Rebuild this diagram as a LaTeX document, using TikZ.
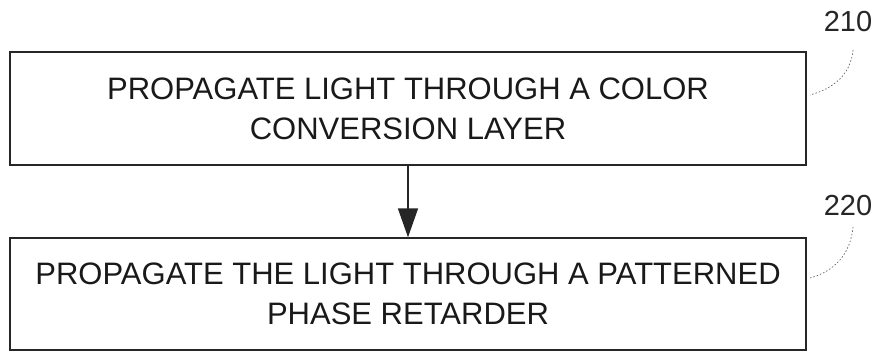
\documentclass[tikz,border=0pt]{standalone}
\usepackage{fontspec}
\setmainfont{Liberation Sans}
\usetikzlibrary{arrows.meta}
\begin{document}
\begin{tikzpicture}[x=1pt,y=1pt,
  stepbox/.style={draw=black!85, line width=1.4pt, minimum width=796pt, inner sep=0pt,
    align=center, font=\fontsize{31}{40}\selectfont, text=black!90},
  reflabel/.style={font=\fontsize{29}{32}\selectfont, text=black!85, inner sep=0pt},
  leader/.style={draw=black!60, line width=0.7pt, dash pattern=on 1.5pt off 2pt},
  flow/.style={draw=black!85, line width=1.6pt, -{Triangle[width=20pt,length=29pt]}}]
\useasboundingbox (0,0) rectangle (880,352);
\node[stepbox, minimum height=113pt] (b1) at (408,243.5)
  {PROPAGATE LIGHT THROUGH A COLOR\\CONVERSION LAYER};
\node[stepbox, minimum height=112pt] (b2) at (408,58)
  {PROPAGATE THE LIGHT THROUGH A PATTERNED\\PHASE RETARDER};
\draw[flow] (b1.south) -- (b2.north);
\node[reflabel] (l1) at (848,330) {210};
\node[reflabel] (l2) at (848,146) {220};
\coordinate (e1) at (810,257);
\coordinate (e2) at (810,74);
\coordinate (s1) at (853,302);
\coordinate (s2) at (853,125);
\draw[leader] (s1) to[out=265, in=15] (e1);
\draw[leader] (s2) to[out=265, in=15] (e2);
\end{tikzpicture}
\end{document}
